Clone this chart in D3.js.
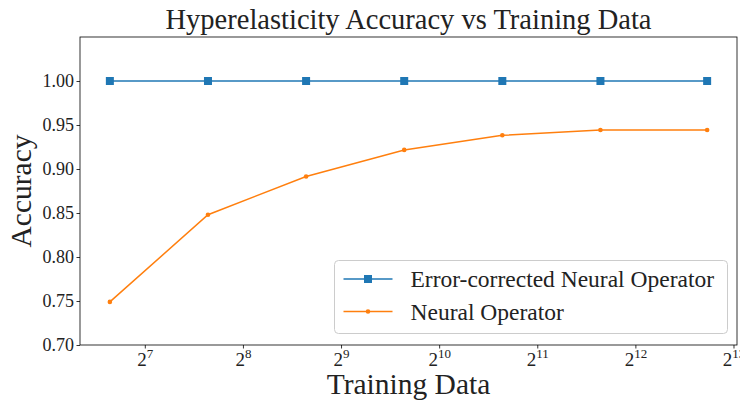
<!DOCTYPE html>
<html>
<head>
<meta charset="utf-8">
<script src="https://cdn.jsdelivr.net/npm/d3@7"></script>
<style>
  body { margin: 0; background: #fff; }
  text { font-family: "Liberation Serif", "DejaVu Serif", serif; fill: #222; }
</style>
</head>
<body>
<div id="chart"></div>
<script>
// data
var trainSizes = [100, 200, 400, 800, 1600, 3200, 6800];
var correctedAcc = [1.0, 1.0, 1.0, 1.0, 1.0, 1.0, 1.0];
var neuralAcc = [0.749, 0.848, 0.8915, 0.9217, 0.9383, 0.9443, 0.9443];
var xTickPowers = [7, 8, 9, 10, 11, 12, 13];
var yTicks = [0.70, 0.75, 0.80, 0.85, 0.90, 0.95, 1.00];
var seriesNames = ["Error-corrected Neural Operator", "Neural Operator"];

var svgWidth = 740;
var svgHeight = 400;
var margin = { top: 37, right: 3, bottom: 55, left: 80 };
var width = svgWidth - margin.left - margin.right;
var height = svgHeight - margin.top - margin.bottom;

var svg = d3.select("#chart")
  .append("svg")
  .attr("width", svgWidth)
  .attr("height", svgHeight);

var chartGroup = svg.append("g")
  .attr("transform", `translate(${margin.left}, ${margin.top})`);

// log2 x scale with 5% padding like matplotlib
var lo = Math.log2(d3.min(trainSizes));
var hi = Math.log2(d3.max(trainSizes));
var pad = (hi - lo) * 0.05;
var xScale = d3.scaleLog().base(2)
  .domain([Math.pow(2, lo - pad), Math.pow(2, hi + pad)])
  .range([0, width]);

var yScale = d3.scaleLinear()
  .domain([0.70, 1.05])
  .range([height, 0]);

// axes
var bottomAxis = d3.axisBottom(xScale)
  .tickValues(xTickPowers.map(p => Math.pow(2, p)))
  .tickSize(3.5)
  .tickFormat("");
var leftAxis = d3.axisLeft(yScale)
  .tickValues(yTicks)
  .tickSize(3.5)
  .tickFormat(d3.format(".2f"));

var xAxis = chartGroup.append("g")
  .attr("transform", `translate(0, ${height})`)
  .call(bottomAxis);
xAxis.select(".domain").remove();
xAxis.selectAll(".tick line").attr("stroke", "#000").attr("stroke-width", 0.8);

// tick labels as 2^n with superscript
xAxis.selectAll(".tick").each(function(d) {
  var t = d3.select(this).append("text")
    .attr("y", 21)
    .attr("text-anchor", "middle")
    .attr("font-size", "19px")
    .style("fill", "#222");
  t.append("tspan").text("2");
  t.append("tspan").attr("dy", "-8").attr("font-size", "13px").text(Math.round(Math.log2(d)));
});

var yAxis = chartGroup.append("g").call(leftAxis);
yAxis.select(".domain").remove();
yAxis.selectAll(".tick line").attr("stroke", "#000").attr("stroke-width", 0.8);
yAxis.selectAll(".tick text")
  .attr("font-size", "18px")
  .attr("x", -6)
  .style("fill", "#222")
  .style("font-family", "Liberation Serif, serif");

// frame
chartGroup.append("rect")
  .attr("width", width)
  .attr("height", height)
  .attr("fill", "none")
  .attr("stroke", "#000")
  .attr("stroke-width", 0.8);

// lines
var line = d3.line()
  .x((d, i) => xScale(trainSizes[i]))
  .y(d => yScale(d));

var blue = "#1f77b4";
var orange = "#ff7f0e";

chartGroup.append("path")
  .datum(correctedAcc)
  .attr("d", line)
  .attr("fill", "none")
  .attr("stroke", blue)
  .attr("stroke-width", 1.5);

chartGroup.selectAll(".sq")
  .data(correctedAcc)
  .enter()
  .append("rect")
  .attr("class", "sq")
  .attr("x", (d, i) => xScale(trainSizes[i]) - 4)
  .attr("y", d => yScale(d) - 4)
  .attr("width", 8)
  .attr("height", 8)
  .attr("fill", blue);

chartGroup.append("path")
  .datum(neuralAcc)
  .attr("d", line)
  .attr("fill", "none")
  .attr("stroke", orange)
  .attr("stroke-width", 1.5);

chartGroup.selectAll(".dot")
  .data(neuralAcc)
  .enter()
  .append("circle")
  .attr("class", "dot")
  .attr("cx", (d, i) => xScale(trainSizes[i]))
  .attr("cy", d => yScale(d))
  .attr("r", 2.3)
  .attr("fill", orange);

// title and labels
svg.append("text")
  .attr("x", margin.left + width / 2)
  .attr("y", 29)
  .attr("text-anchor", "middle")
  .attr("font-size", "28.5px")
  .text("Hyperelasticity Accuracy vs Training Data");

svg.append("text")
  .attr("x", margin.left + width / 2)
  .attr("y", 394)
  .attr("text-anchor", "middle")
  .attr("font-size", "29.5px")
  .text("Training Data");

svg.append("text")
  .attr("transform", `translate(31, ${margin.top + height / 2}) rotate(-90)`)
  .attr("text-anchor", "middle")
  .attr("font-size", "29.5px")
  .text("Accuracy");

// legend
var legend = svg.append("g").attr("transform", "translate(334.5, 260.5)");
legend.append("rect")
  .attr("width", 393)
  .attr("height", 73)
  .attr("rx", 4)
  .attr("fill", "#fff")
  .attr("fill-opacity", 0.8)
  .attr("stroke", "#ccc")
  .attr("stroke-width", 1);

var colors = [blue, orange];
seriesNames.forEach(function(name, i) {
  var y = 18.5 + i * 32.5;
  legend.append("line")
    .attr("x1", 9).attr("x2", 58)
    .attr("y1", y).attr("y2", y)
    .attr("stroke", colors[i])
    .attr("stroke-width", 1.5);
  if (i === 0) {
    legend.append("rect")
      .attr("x", 33.5 - 4).attr("y", y - 4)
      .attr("width", 8).attr("height", 8)
      .attr("fill", colors[i]);
  } else {
    legend.append("circle")
      .attr("cx", 33.5).attr("cy", y).attr("r", 2.3)
      .attr("fill", colors[i]);
  }
  legend.append("text")
    .attr("x", 76)
    .attr("y", y + 8)
    .attr("font-size", "23.5px")
    .text(name);
});
</script>
</body>
</html>
